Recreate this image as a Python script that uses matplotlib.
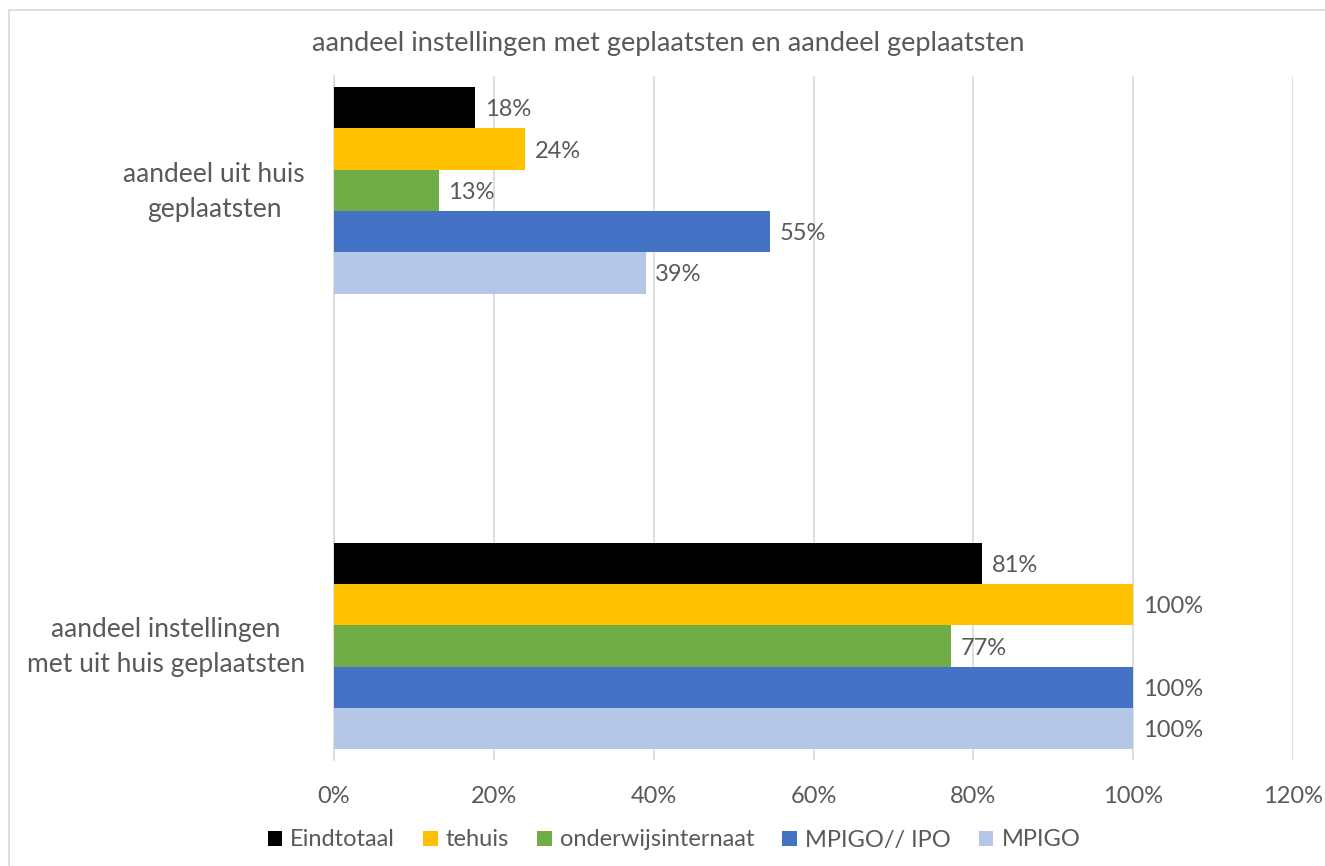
import numpy as np
import matplotlib.pyplot as plt
from matplotlib.patches import Rectangle
from matplotlib.ticker import PercentFormatter

# Gegevens
categorieen = ['aandeel uit huis\ngeplaatsten', 'aandeel instellingen\nmet uit huis geplaatsten']
reeksen = ['Eindtotaal', 'tehuis', 'onderwijsinternaat', 'MPIGO// IPO', 'MPIGO']
eindtotaal = [0.177, 0.811]
tehuis = [0.239, 1.00]
onderwijsinternaat = [0.131, 0.772]
mpigo_ipo = [0.546, 1.00]
mpigo = [0.390, 1.00]
waarden = [eindtotaal, tehuis, onderwijsinternaat, mpigo_ipo, mpigo]
kleuren = ['#000000', '#FFC000', '#70AD47', '#4472C4', '#B4C7E7']

plt.rcParams['font.family'] = ['Lato', 'DejaVu Sans']
tekstkleur = '#595959'

fig = plt.figure(figsize=(13.25, 8.66), dpi=100)
ax = fig.add_axes([334 / 1325, 1 - 760 / 866, (1293 - 334) / 1325, (760 - 76) / 866])

# rand rond de grafiek
fig.patches.append(Rectangle((9 / 1325, -0.1), 1.2, 1 - 10 / 866 + 0.1, transform=fig.transFigure,
                             fill=False, edgecolor='#D9D9D9', linewidth=1.2))

groep_start = [0, 11.04]
for j, (naam, vals, kleur) in enumerate(zip(reeksen, waarden, kleuren)):
    y = [g + j + 0.5 for g in groep_start]
    ax.barh(y, vals, height=1.0, color=kleur, label=naam, linewidth=0, zorder=3)
    for yy, v in zip(y, vals):
        ax.text(v + 0.012, yy + 0.05, f'{v:.0%}', va='center', ha='left', fontsize=17, color=tekstkleur)

ax.set_xlim(0, 1.2)
ax.set_ylim(16.3, -0.27)
ax.set_xticks(np.arange(0, 1.21, 0.2))
ax.xaxis.set_major_formatter(PercentFormatter(1.0, decimals=0))
# labels iets hoger dan het groepsmidden, zoals in Excel
ax.set_yticks([g + 2.5 - 0.15 for g in groep_start])
ax.set_yticklabels(categorieen, multialignment='center', linespacing=1.5)
ax.tick_params(axis='x', length=0, labelsize=17, labelcolor=tekstkleur, pad=19)
ax.tick_params(axis='y', length=0, labelsize=19, labelcolor=tekstkleur, pad=21)
ax.grid(axis='x', color='#D9D9D9', linewidth=1.2, zorder=0)
for s in ['top', 'right', 'bottom']:
    ax.spines[s].set_visible(False)
ax.spines['left'].set_color('#D9D9D9')
ax.spines['left'].set_linewidth(1.2)

fig.text(668 / 1325, 1 - 43 / 866, 'aandeel instellingen met geplaatsten en aandeel geplaatsten',
         ha='center', va='center', fontsize=19.5, color=tekstkleur)

fig.legend(loc='center', bbox_to_anchor=(674 / 1325, 1 - 840 / 866), ncol=5, frameon=False,
           fontsize=17, labelcolor=tekstkleur, handlelength=0.6, handleheight=0.6,
           handletextpad=0.35, columnspacing=1.2)

fig.savefig('out.png', dpi=100)
